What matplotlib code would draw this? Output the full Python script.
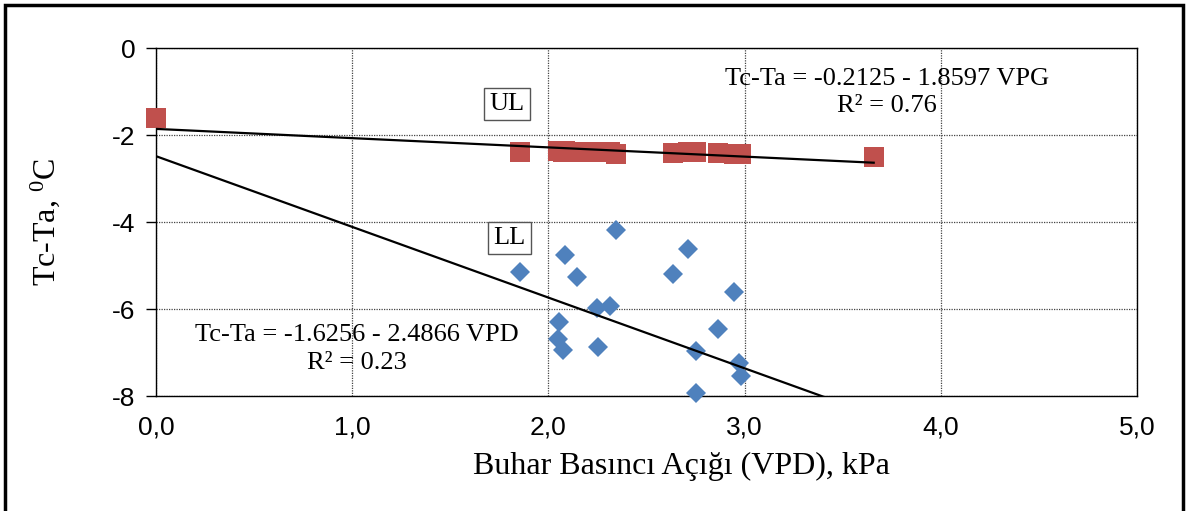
import matplotlib
matplotlib.use("Agg")
import numpy as np
import matplotlib.pyplot as plt
from matplotlib.patches import Rectangle
from matplotlib.ticker import FuncFormatter

# Upper limit (UL) points
ul_vpd = [0.0, 1.857, 2.049, 2.053, 2.075, 2.087, 2.146, 2.248, 2.252, 2.313,
          2.347, 2.636, 2.713, 2.753, 2.753, 2.864, 2.946, 2.971, 2.980, 3.658]
ul_dt = [-1.62, -2.38, -2.37, -2.37, -2.38, -2.37, -2.38, -2.38, -2.39, -2.40,
         -2.43, -2.42, -2.40, -2.38, -2.39, -2.42, -2.44, -2.44, -2.43, -2.51]

# Lower limit (LL) points
ll_vpd = [1.857, 2.087, 2.146, 2.347, 2.248, 2.313, 2.053, 2.049, 2.075,
          2.252, 2.636, 2.713, 2.946, 2.864, 2.753, 2.971, 2.980, 2.753]
ll_dt = [-5.14, -4.76, -5.26, -4.18, -5.98, -5.92, -6.31, -6.70, -6.94,
         -6.87, -5.20, -4.61, -5.60, -6.46, -6.97, -7.25, -7.54, -7.94]

# trendline coefficients (intercept, slope)
ul_fit = (-1.8597, -0.2125)
ll_fit = (-2.4866, -1.6256)
fit_range = [0.0, 3.658]

serif = "Liberation Serif"
sans = "Liberation Sans"
plt.rcParams["mathtext.fontset"] = "custom"
plt.rcParams["mathtext.rm"] = serif

fig = plt.figure(figsize=(11.9, 5.11), dpi=100)
ax = fig.add_axes([156 / 1190, 1 - 396 / 511, 981 / 1190, 348 / 511])

ax.plot(ul_vpd, ul_dt, "s", color="#C0504D", markersize=14, zorder=3,
        markeredgewidth=0, clip_on=False)
ax.plot(ll_vpd, ll_dt, "D", color="#4F81BD", markersize=10.5, zorder=3,
        markeredgewidth=0, clip_on=False)

xs = np.array(fit_range)
ax.plot(xs, ul_fit[0] + ul_fit[1] * xs, color="black", lw=1.6, zorder=4)
ax.plot(xs, ll_fit[0] + ll_fit[1] * xs, color="black", lw=1.6, zorder=4)

ax.set_xlim(0, 5)
ax.set_ylim(-8, 0)
ax.set_xticks([0, 1, 2, 3, 4, 5])
ax.set_yticks([0, -2, -4, -6, -8])
ax.xaxis.set_major_formatter(FuncFormatter(lambda v, p: f"{v:.1f}".replace(".", ",")))
ax.yaxis.set_major_formatter(FuncFormatter(lambda v, p: f"{v:.0f}"))
ax.tick_params(axis="x", length=0, pad=14, labelsize=19)
ax.tick_params(axis="y", length=7, width=1, pad=8, labelsize=19)
for lab in ax.get_xticklabels() + ax.get_yticklabels():
    lab.set_fontfamily(sans)
ax.grid(True, color="#444444", linestyle=(0, (1, 1)), linewidth=0.9)
ax.set_axisbelow(True)
for sp in ax.spines.values():
    sp.set_linewidth(1.0)
    sp.set_color("black")

ax.text(1.79, -1.29, "UL", fontsize=19, family=serif, ha="center", va="center",
        bbox=dict(boxstyle="square,pad=0.2", fc="white", ec="#555555", lw=1))
ax.text(1.80, -4.37, "LL", fontsize=19, family=serif, ha="center", va="center",
        bbox=dict(boxstyle="square,pad=0.2", fc="white", ec="#555555", lw=1))

ax.text(3.724, -1.03, "Tc-Ta = -0.2125 - 1.8597 VPG\nR² = 0.76", fontsize=19,
        family=serif, ha="center", va="center", multialignment="center",
        linespacing=1.3)
ax.text(1.026, -6.92, "Tc-Ta = -1.6256 - 2.4866 VPD\nR² = 0.23", fontsize=19,
        family=serif, ha="center", va="center", multialignment="center",
        linespacing=1.4)

fig.text(681 / 1190, 1 - 466 / 511, "Buhar Basıncı Açığı (VPD), kPa",
         fontsize=23, family=serif, ha="center", va="center")
fig.text(45 / 1190, 1 - 222 / 511, r"Tc-Ta, $\mathregular{^0}$C",
         fontsize=23, family=serif, ha="center", va="center", rotation=90)

fig.patches.append(Rectangle((5 / 1190, -0.05), 1178 / 1190, 1 - 5 / 511 + 0.05,
                             transform=fig.transFigure, fill=False,
                             ec="black", lw=2.5))

fig.savefig("out.png", dpi=100)
